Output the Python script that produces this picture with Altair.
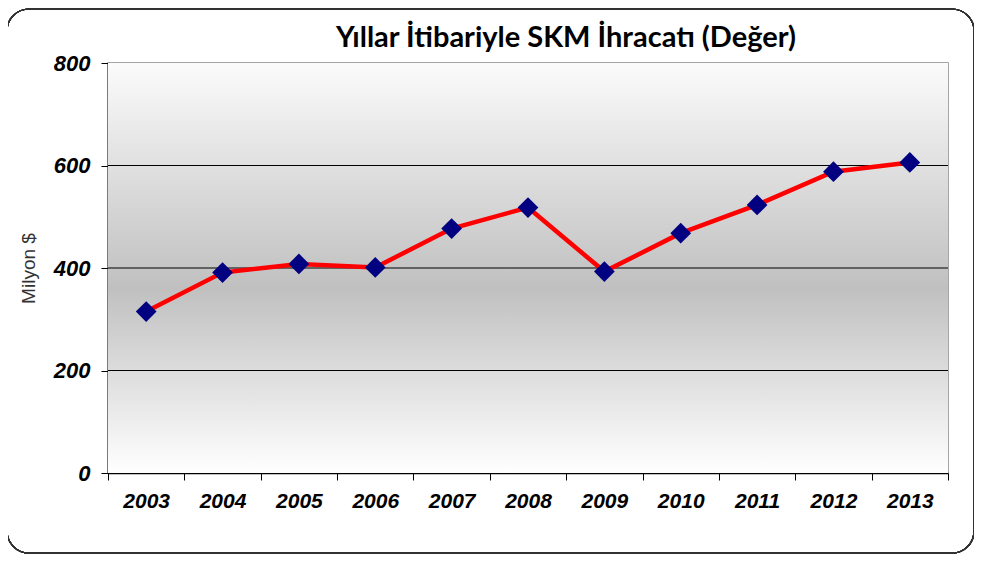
import altair as alt
import pandas as pd

years = ["2003", "2004", "2005", "2006", "2007", "2008", "2009", "2010", "2011", "2012", "2013"]
values = [315, 391, 408, 401, 477, 518, 393, 468, 523, 588, 606]
y_ticks = [0, 200, 400, 600, 800]
grid_vals = [200, 400, 600]
title_text = "Yıllar İtibariyle SKM İhracatı (Değer)"

df = pd.DataFrame({"yil": years, "deger": values})
gdf = pd.DataFrame({"g": grid_vals})

W, H = 840, 410

x_enc = alt.X("yil:N", sort=years, title=None,
              scale=alt.Scale(paddingInner=0, paddingOuter=0),
              axis=alt.Axis(labelAngle=0, labelFont="Liberation Sans", labelFontSize=21,
                            labelFontWeight="bold", labelFontStyle="italic", labelColor="black",
                            labelPadding=10, tickBand="extent", tickSize=7, tickColor="black",
                            domainColor="black", domainWidth=1.5, grid=False))
y_scale = alt.Scale(domain=[0, 800], nice=False)
y_axis = alt.Axis(values=y_ticks, labelFont="Liberation Sans", labelFontSize=22,
                  labelFontWeight="bold", labelFontStyle="italic", labelColor="black",
                  labelPadding=11, tickSize=7, tickColor="black",
                  domainColor="black", domainWidth=1.5, grid=False,
                  titleFont="Liberation Sans", titleFontSize=19, titleFontWeight="normal",
                  titleColor="#333333", titlePadding=15)
y_enc = alt.Y("deger:Q", title="Milyon $", scale=y_scale, axis=y_axis)

bg = alt.Chart(df).mark_rect(
    fill=alt.Gradient(gradient="linear", x1=0, y1=0, x2=0, y2=1,
                      stops=[alt.GradientStop(offset=0, color="#fbfbfb"),
                             alt.GradientStop(offset=0.55, color="#c0c0c0"),
                             alt.GradientStop(offset=1, color="#ffffff")])
).encode(x=alt.value(0), x2=alt.value(W), y=alt.value(0), y2=alt.value(H))

grid = alt.Chart(gdf).mark_rule(color="#000000", strokeWidth=1).encode(
    y=alt.Y("g:Q", title="Milyon $", scale=y_scale, axis=y_axis))

frame = alt.Chart(df).mark_rect(
    fill=None, stroke="#333333", strokeWidth=1.2, cornerRadius=22
).encode(x=alt.value(-101), x2=alt.value(866), y=alt.value(-54), y2=alt.value(490))

title = alt.Chart(pd.DataFrame({"t": [title_text]})).mark_text(
    font="Lato", fontSize=29, fontWeight="bold", color="black", align="center", baseline="alphabetic"
).encode(text="t:N", x=alt.value(458), y=alt.value(-16))

line = alt.Chart(df).mark_line(color="#ff0000", strokeWidth=4.5).encode(x=x_enc, y=y_enc)
pts = alt.Chart(df).mark_point(shape="diamond", filled=True, color="#000080", size=430, opacity=1).encode(
    x=x_enc, y=y_enc)

chart = alt.layer(bg, grid, line, pts, frame, title).properties(
    width=W, height=H,
    autosize=alt.AutoSizeParams(type="none"),
    padding={"left": 100, "top": 55, "right": 26, "bottom": 82},
).configure_view(stroke="#888888", strokeWidth=1.5)

chart.save("out.html", embed_options={"renderer": "svg", "actions": False})
